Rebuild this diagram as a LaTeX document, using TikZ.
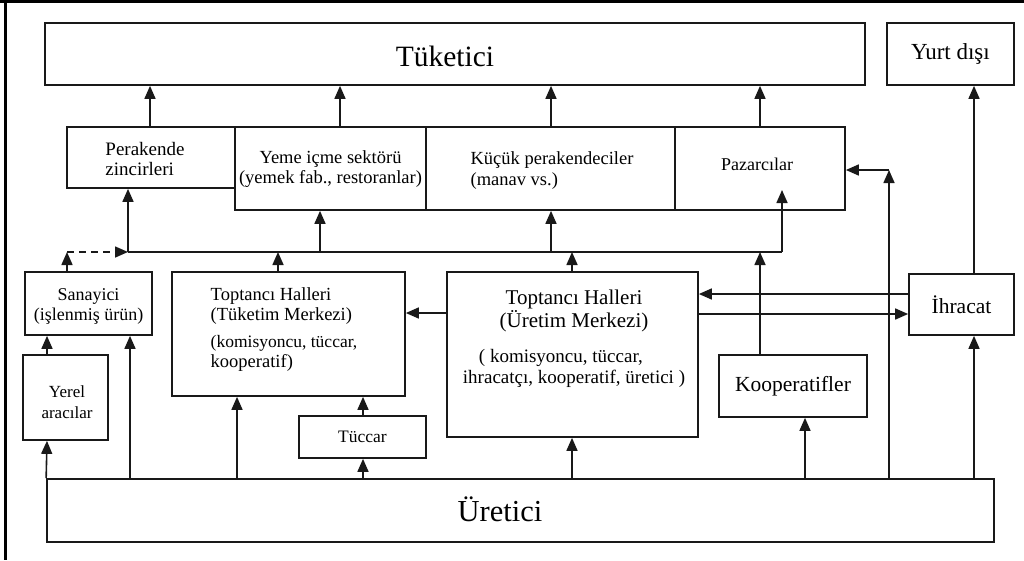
\documentclass[tikz,border=0pt]{standalone}
\usepackage{fontspec}
\setmainfont{Liberation Serif}
\usetikzlibrary{arrows.meta}
\begin{document}
\begin{tikzpicture}[x=1pt,y=-1pt,
  box/.style={draw=black!90,line width=1.7pt,inner sep=0pt,anchor=center},
  txt/.style={inner sep=0pt,anchor=center},
  arr/.style={line width=1.6pt,draw=black!90,-{Triangle[length=13pt,width=11pt]}},
  ln/.style={line width=1.6pt,draw=black!90},
  dsh/.style={line width=1.6pt,draw=black!90,dash pattern=on 7pt off 5pt,-{Triangle[length=13pt,width=11pt]}}]
\useasboundingbox (0,0) rectangle (1024,560);
% outer frame
\draw[line width=3pt] (0,1.5) -- (1024,1.5);
\draw[line width=3pt] (5.5,0) -- (5.5,560);

% top row
\node[box,minimum width=820pt,minimum height=62pt] (tuketici) at (455,54) {};
\node[txt,font=\fontsize{29.5}{30}\selectfont] (tuketicit) at (445,56) {Tüketici};
\node[box,minimum width=127pt,minimum height=62pt,font=\fontsize{23}{24}\selectfont] (yurt) at (950.5,54) {Yurt dışı};

% middle row
\node[box,minimum width=168pt,minimum height=61pt] (perakende) at (151,157.5) {};
\node[txt,align=left,font=\fontsize{19}{20}\selectfont] (perakendet) at (145,159) {Perakende\\zincirleri};
\node[box,minimum width=191pt,minimum height=83pt] (yeme) at (330.5,168.5) {};
\node[txt,align=center,font=\fontsize{18.5}{20}\selectfont] (yemet) at (330.5,169) {Yeme içme sektörü\\(yemek fab., restoranlar)};
\node[box,minimum width=249pt,minimum height=83pt] (kucuk) at (550.5,168.5) {};
\node[txt,align=left,font=\fontsize{18.5}{21}\selectfont] (kucukt) at (552,171) {Küçük perakendeciler\\(manav vs.)};
\node[box,minimum width=170pt,minimum height=83pt] (pazar) at (760,168.5) {};
\node[txt,font=\fontsize{18}{19}\selectfont] (pazart) at (757,164) {Pazarcılar};

% third row
\node[box,minimum width=127pt,minimum height=63pt] (sanayici) at (88.5,303.5) {};
\node[txt,align=center,font=\fontsize{18}{20}\selectfont] (sanayicit) at (88.5,306) {Sanayici\\(işlenmiş ürün)};
\node[box,minimum width=233pt,minimum height=124pt] (tuketim) at (288.5,334) {};
\node[txt,align=left,font=\fontsize{18.5}{20}\selectfont] (tuketimt) at (284,330) {Toptancı Halleri\\(Tüketim Merkezi)\\[7pt]\fontsize{17.5}{20}\selectfont(komisyoncu, tüccar,\\kooperatif)};
\node[box,minimum width=251pt,minimum height=165pt] (uretim) at (572.5,354.5) {};
\node[txt,align=center,font=\fontsize{21}{23}\selectfont] (uretimt1) at (574,311) {Toptancı Halleri\\(Üretim Merkezi)};
\node[txt,align=left,font=\fontsize{19}{21}\selectfont] (uretimt2) at (574,368) {\hspace*{16pt}( komisyoncu, tüccar,\\ihracatçı, kooperatif, üretici )};
\node[box,minimum width=105pt,minimum height=61pt,font=\fontsize{21.5}{22}\selectfont] (ihracat) at (961.5,304.5) {İhracat};

% lower boxes
\node[box,minimum width=85pt,minimum height=85pt] (yerel) at (65.5,397.5) {};
\node[txt,align=center,font=\fontsize{17}{20.5}\selectfont] (yerelt) at (67,402) {Yerel\\aracılar};
\node[box,minimum width=127pt,minimum height=42pt,font=\fontsize{17.5}{19}\selectfont] (tuccar) at (362.5,437) {Tüccar};
\node[box,minimum width=148pt,minimum height=62pt,font=\fontsize{21.5}{22}\selectfont] (kooperatifler) at (793,386) {Kooperatifler};

% bottom
\node[box,minimum width=947pt,minimum height=63pt] (uretici) at (520.5,510.5) {};
\node[txt,font=\fontsize{30.5}{31}\selectfont] (uretecit) at (500,509) {Üretici};

% coordinates
\coordinate (d1) at (128,252);
\coordinate (d2) at (782,252);
\coordinate (ds) at (67,252);
\coordinate (pz) at (782,190);
\coordinate (kc) at (889,170);

% arrows to Tüketici
\draw[arr] (150,0 |- perakende.north) -- (150,0 |- tuketici.south);
\draw[arr] (340,0 |- yeme.north) -- (340,0 |- tuketici.south);
\draw[arr] (551,0 |- kucuk.north) -- (551,0 |- tuketici.south);
\draw[arr] (760,0 |- pazar.north) -- (760,0 |- tuketici.south);
\draw[arr] (974,0 |- ihracat.north) -- (974,0 |- yurt.south);

% distribution line
\draw[ln] (d1) -- (d2);
\draw[arr] (d1) -- (128,0 |- perakende.south);
\draw[arr] (320,252) -- (320,0 |- yeme.south);
\draw[arr] (551,252) -- (551,0 |- kucuk.south);
\draw[arr] (d2) -- (pz);
\draw[arr] (67,0 |- sanayici.north) -- (ds);
\draw[dsh] (ds) -- (d1);
\draw[arr] (278,0 |- tuketim.north) -- (278,252);
\draw[arr] (572,0 |- uretim.north) -- (572,252);
\draw[arr] (760,0 |- kooperatifler.north) -- (760,252);

% horizontal links
\draw[arr] (uretim.west |- 0,313) -- (tuketim.east |- 0,313);
\draw[arr] (ihracat.west |- 0,294) -- (uretim.east |- 0,294);
\draw[arr] (uretim.east |- 0,314) -- (ihracat.west |- 0,314);

% to Pazarcılar
\draw[arr] (889,0 |- uretici.north) -- (kc);
\draw[arr] (kc) -- (pazar.east |- kc);

% from Üretici
\draw[arr] (uretici.north west) -- (47,0 |- yerel.south);
\draw[arr] (47,0 |- yerel.north) -- (47,0 |- sanayici.south);
\draw[arr] (130,0 |- uretici.north) -- (130,0 |- sanayici.south);
\draw[arr] (237,0 |- uretici.north) -- (237,0 |- tuketim.south);
\draw[arr] (363,0 |- uretici.north) -- (363,0 |- tuccar.south);
\draw[arr] (363,0 |- tuccar.north) -- (363,0 |- tuketim.south);
\draw[arr] (572,0 |- uretici.north) -- (572,0 |- uretim.south);
\draw[arr] (805,0 |- uretici.north) -- (805,0 |- kooperatifler.south);
\draw[arr] (974,0 |- uretici.north) -- (974,0 |- ihracat.south);
\end{tikzpicture}
\end{document}
